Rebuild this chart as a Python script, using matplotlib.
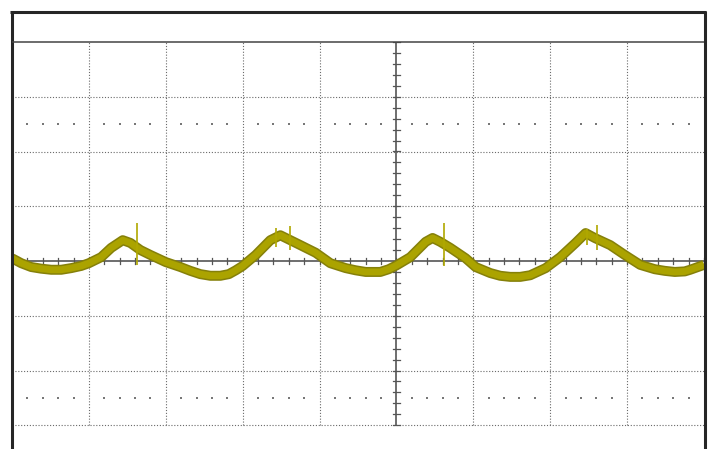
import numpy as np
import matplotlib
matplotlib.use("Agg")
import matplotlib.pyplot as plt
from matplotlib.lines import Line2D

# trace, in divisions (x: time div, y: volt div)
trace_x = [-5.0, -4.88, -4.75, -4.62, -4.49, -4.36, -4.23, -4.1, -4.0, -3.84,
           -3.71, -3.56, -3.46, -3.33, -3.2, -3.0, -2.81, -2.68, -2.55, -2.42,
           -2.29, -2.18, -2.09, -2.0, -1.83, -1.64, -1.51, -1.38, -1.25, -1.05,
           -0.86, -0.66, -0.53, -0.4, -0.21, -0.1, 0.0, 0.18, 0.38, 0.47,
           0.57, 0.7, 0.9, 1.03, 1.22, 1.35, 1.48, 1.61, 1.74, 1.94,
           2.13, 2.33, 2.46, 2.58, 2.78, 2.97, 3.17, 3.36, 3.49, 3.62,
           3.75, 3.82, 4.0]
trace_y = [0.05, -0.04, -0.11, -0.14, -0.16, -0.16, -0.13, -0.09, -0.04, 0.07,
           0.24, 0.38, 0.33, 0.2, 0.11, -0.02, -0.11, -0.18, -0.24, -0.27,
           -0.27, -0.24, -0.17, -0.09, 0.11, 0.38, 0.47, 0.38, 0.29, 0.15,
           -0.04, -0.13, -0.17, -0.2, -0.2, -0.15, -0.08, 0.07, 0.35, 0.42,
           0.35, 0.24, 0.05, -0.11, -0.22, -0.27, -0.29, -0.29, -0.26, -0.13,
           0.07, 0.33, 0.51, 0.42, 0.29, 0.11, -0.07, -0.15, -0.18, -0.2,
           -0.19, -0.16, -0.07]

# glitch spikes on the trace
spike_x = [-3.38, -1.56, -1.38, 0.62, 2.48, 2.61]
spike_lo = [-0.07, 0.25, 0.2, -0.09, 0.3, 0.2]
spike_hi = [0.69, 0.6, 0.64, 0.69, 0.58, 0.66]

x_min, x_max = -5, 4
y_top, y_bot_grid = 4, -3

W, H = 709, 449
fig = plt.figure(figsize=(W / 100, H / 100), dpi=100)
fig.patch.set_facecolor("white")

ax = fig.add_axes([12 / W, 0, (704 - 12) / W, 1 - 42 / H])
ax.set_xlim(x_min, x_max)
ax.set_ylim(-(449 - 261) / 54.75, y_top)
ax.axis("off")

grid_col = "#6a6a6a"
dot_style = (0, (1, 1.6))

# graticule
for gx in range(x_min + 1, x_max):
    if gx == 0:
        continue
    ax.plot([gx, gx], [y_bot_grid, y_top], color=grid_col, lw=0.8,
            linestyle=dot_style, zorder=1)
for gy in range(y_bot_grid, y_top):
    if gy == 0:
        continue
    ax.plot([x_min, x_max], [gy, gy], color=grid_col, lw=0.8,
            linestyle=dot_style, zorder=1)

# dotted rows at +/-2.5 div
sub = np.arange(x_min, x_max + 0.001, 0.2)
sub = sub[np.abs(sub - np.round(sub)) > 0.05]
for ry in [2.5, -2.5]:
    ax.scatter(sub, np.full(len(sub), ry), marker="s", s=1.2, color="#777777",
               linewidths=0, zorder=1)

# center axes with minor ticks
ax.plot([x_min, x_max], [0, 0], color="#555555", lw=1.2, zorder=2)
ax.plot([0, 0], [y_bot_grid, y_top], color="#555555", lw=1.2, zorder=2)
for tx in np.arange(x_min, x_max + 0.001, 0.2):
    ax.plot([tx, tx], [-0.055, 0.055], color="#555555", lw=0.9, zorder=2)
for ty in np.arange(y_bot_grid, y_top + 0.001, 0.2):
    ax.plot([-0.05, 0.05], [ty, ty], color="#555555", lw=0.9, zorder=2)

# trace: dark edge under a brighter olive band
ax.plot(trace_x, trace_y, color="#85800a", lw=7.2, solid_joinstyle="round",
        solid_capstyle="butt", zorder=3)
ax.plot(trace_x, trace_y, color="#aba300", lw=5.0, solid_joinstyle="round",
        solid_capstyle="butt", zorder=4)
ax.vlines(spike_x, spike_lo, spike_hi, color="#b0a800", lw=1.2, zorder=5)

# screen frame and header divider (figure pixels)
def fig_line(x0, y0, x1, y1, color, lw):
    fig.add_artist(Line2D([x0 / W, x1 / W], [1 - y0 / H, 1 - y1 / H],
                          color=color, lw=lw, solid_capstyle="butt"))

fig_line(10, 12, 706, 12, "#262626", 2.2)
fig_line(12, 11, 12, 449, "#262626", 2.2)
fig_line(704.5, 11, 704.5, 449, "#262626", 2.2)
fig_line(12, 42, 704, 42, "#444444", 1.1)

fig.savefig("out.png", dpi=100, facecolor="white")
